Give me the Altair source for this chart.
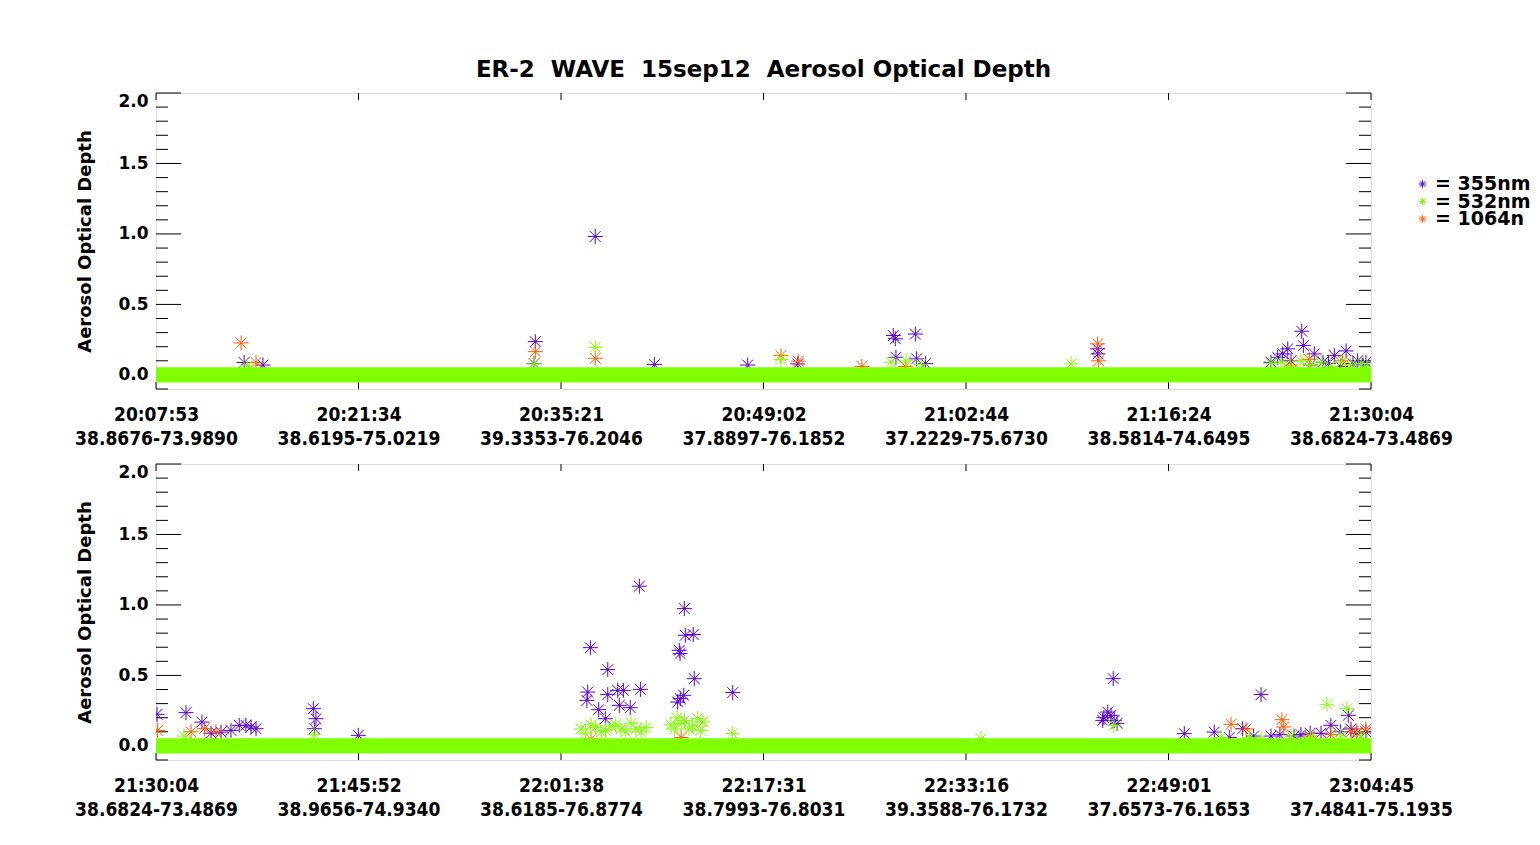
import json
import altair as alt
import pandas as pd

# ---------------- data (x in tick-interval units: 0..6 per panel) ----------------
top_times = ["20:07:53", "20:21:34", "20:35:21", "20:49:02", "21:02:44", "21:16:24", "21:30:04"]
top_coords = ["38.8676-73.9890", "38.6195-75.0219", "39.3353-76.2046", "37.8897-76.1852",
              "37.2229-75.6730", "38.5814-74.6495", "38.6824-73.4869"]
bot_times = ["21:30:04", "21:45:52", "22:01:38", "22:17:31", "22:33:16", "22:49:01", "23:04:45"]
bot_coords = ["38.6824-73.4869", "38.9656-74.9340", "38.6185-76.8774", "38.7993-76.8031",
              "39.3588-76.1732", "37.6573-76.1653", "37.4841-75.1935"]

top_355_pos = [0.435, 0.528, 1.867, 1.873, 2.169, 2.461, 2.922, 3.169, 3.641, 3.651, 3.654, 3.750,
               3.756, 3.800, 4.650, 4.652, 5.506, 5.539, 5.564, 5.589, 5.605, 5.658, 5.666, 5.700,
               5.720, 5.763, 5.790, 5.819, 5.850, 5.877, 5.911, 5.934, 5.960, 5.975]
top_355_aod = [0.088, 0.070, 0.080, 0.236, 0.982, 0.073, 0.070, 0.078, 0.279, 0.256, 0.125, 0.290,
               0.114, 0.080, 0.185, 0.149, 0.090, 0.125, 0.149, 0.185, 0.100, 0.310, 0.208, 0.070,
               0.149, 0.090, 0.080, 0.137, 0.060, 0.170, 0.080, 0.100, 0.070, 0.090]
top_1064_pos = [0.420, 0.494, 1.873, 2.169, 3.086, 3.172, 3.486, 3.700, 4.650, 4.655, 5.605, 5.695, 5.860]
top_1064_aod = [0.227, 0.088, 0.165, 0.118, 0.137, 0.097, 0.060, 0.060, 0.220, 0.100, 0.070, 0.110, 0.100]
top_532_pos = [0.450, 1.867, 2.169, 3.086, 3.630, 3.704, 3.778, 4.519, 5.506, 5.556, 5.600, 5.654,
               5.700, 5.753, 5.800, 5.852, 5.900, 5.951, 5.980]
top_532_aod = [0.065, 0.078, 0.196, 0.110, 0.090, 0.100, 0.075, 0.078, 0.080, 0.090, 0.060, 0.100,
               0.070, 0.085, 0.060, 0.090, 0.070, 0.080, 0.060]

bot_355_pos = [0.005, 0.148, 0.227, 0.272, 0.321, 0.370, 0.411, 0.444, 0.469, 0.494, 0.777, 0.782,
               0.790, 0.999, 2.128, 2.132, 2.145, 2.186, 2.219, 2.231, 2.231, 2.280, 2.288, 2.308,
               2.342, 2.387, 2.392, 2.576, 2.584, 2.588, 2.589, 2.606, 2.609, 2.614, 2.653, 2.658,
               2.848, 4.675, 4.681, 4.700, 4.716, 4.727, 4.732, 4.746, 5.078, 5.226, 5.300, 5.366,
               5.420, 5.457, 5.506, 5.550, 5.620, 5.654, 5.700, 5.753, 5.802, 5.850, 5.888, 5.901,
               5.930, 5.975]
bot_355_aod = [0.224, 0.236, 0.169, 0.090, 0.098, 0.110, 0.146, 0.146, 0.134, 0.122, 0.264, 0.122,
               0.193, 0.075, 0.323, 0.382, 0.697, 0.257, 0.193, 0.541, 0.364, 0.394, 0.288, 0.394,
               0.271, 1.133, 0.401, 0.311, 0.678, 0.655, 0.335, 0.359, 0.974, 0.785, 0.790, 0.477,
               0.378, 0.181, 0.200, 0.240, 0.217, 0.477, 0.181, 0.160, 0.087, 0.098, 0.060, 0.122,
               0.070, 0.364, 0.070, 0.080, 0.070, 0.080, 0.090, 0.090, 0.146, 0.100, 0.217, 0.120,
               0.090, 0.100]
bot_1064_pos = [0.008, 0.173, 0.239, 0.296, 2.148, 2.593, 5.309, 5.383, 5.560, 5.569, 5.700, 5.800,
                5.901, 5.930, 5.975]
bot_1064_aod = [0.110, 0.100, 0.122, 0.100, 0.050, 0.060, 0.153, 0.120, 0.186, 0.134, 0.070, 0.080,
                0.100, 0.100, 0.120]
bot_532_pos = [0.138, 0.780, 2.099, 2.120, 2.148, 2.170, 2.198, 2.220, 2.247, 2.270, 2.296, 2.320,
               2.346, 2.370, 2.395, 2.420, 2.543, 2.560, 2.573, 2.593, 2.610, 2.632, 2.650, 2.675,
               2.690, 2.701, 2.848, 4.074, 4.730, 5.259, 5.400, 5.457, 5.605, 5.700, 5.783, 5.850,
               5.881, 5.951]
bot_532_aod = [0.070, 0.080, 0.120, 0.090, 0.150, 0.130, 0.100, 0.110, 0.140, 0.150, 0.120, 0.100,
               0.160, 0.120, 0.100, 0.130, 0.150, 0.120, 0.200, 0.158, 0.180, 0.120, 0.140, 0.193,
               0.110, 0.170, 0.087, 0.050, 0.146, 0.060, 0.060, 0.050, 0.070, 0.060, 0.295, 0.070,
               0.264, 0.070]

# dense near-zero band of 532nm records (continuous over the whole flight leg)
band_start = [0.0]
band_end = [6.0]
band_low = [-0.053]
band_high = [0.054]

y_major = [0.0, 0.5, 1.0, 1.5, 2.0]
y_minor = [-0.1, 0.1, 0.2, 0.3, 0.4, 0.6, 0.7, 0.8, 0.9, 1.1, 1.2, 1.3, 1.4, 1.6, 1.7, 1.8, 1.9]
x_ticks = [0, 1, 2, 3, 4, 5, 6]

wavelengths = ["355nm", "532nm", "1064nm"]
colors = ["#5500cc", "#80ff00", "#ff5a00"]

ASTERISK = "M-1,0L1,0M0,-1L0,1M-0.72,-0.72L0.72,0.72M-0.72,0.72L0.72,-0.72"
FONT = "DejaVu Sans"
XFONT = "DejaVu Sans Condensed, DejaVu Sans"
W, H = 1215, 296
YSCALE = alt.Scale(domain=[-0.1, 2.0], nice=False, zero=False)


def panel(p355, a355, p1064, a1064, p532, a532, times, coords, legend, title=None):
    pts_back = pd.DataFrame({
        "pos": p355 + p1064,
        "aod": a355 + a1064,
        "wl": ["355nm"] * len(p355) + ["1064nm"] * len(p1064),
    })
    pts_front = pd.DataFrame({"pos": p532, "aod": a532, "wl": ["532nm"] * len(p532)})
    band = pd.DataFrame({"pos": band_start, "pos2": band_end, "lo": band_low, "hi": band_high})
    ymaj = pd.DataFrame({"aod": y_major})
    ymin = pd.DataFrame({"aod": y_minor})
    xt = pd.DataFrame({"pos": x_ticks})

    label_expr = f"[{json.dumps(times)}[datum.value], {json.dumps(coords)}[datum.value]]"
    X = alt.X("pos:Q", title=None,
              scale=alt.Scale(domain=[0, 6], nice=False, zero=False),
              axis=alt.Axis(values=x_ticks, labelExpr=label_expr, ticks=False, tickSize=0,
                            domain=False, grid=False, labelFlush=False, labelOverlap=False,
                            labelLimit=0, labelBaseline="top", labelPadding=16,
                            labelLineHeight=24, labelFont=XFONT, labelFontSize=19,
                            labelFontWeight="bold", labelColor="black"))
    Y = alt.Y("aod:Q", title="Aerosol Optical Depth", scale=YSCALE,
              axis=alt.Axis(values=y_major, format=".1f", ticks=False, tickSize=0, domain=False,
                            grid=False, labelPadding=8, labelFont=FONT, labelFontSize=17,
                            labelFontWeight="bold", labelColor="black",
                            labelBaseline={"condition": {"test": "datum.value >= 2", "value": "top"},
                                           "value": "middle"},
                            titleFont=FONT, titleFontSize=18, titleFontWeight="bold",
                            titleColor="black", titlePadding=23))

    C = alt.Color("wl:N", scale=alt.Scale(domain=wavelengths, range=colors), legend=None)

    def rule(df, **enc):
        return alt.Chart(df).mark_rule(color="black", strokeWidth=1).encode(**enc)

    layers = [
        rule(ymaj, y=Y, x=alt.value(0), x2=alt.value(25)),
        rule(ymaj, y=Y, x=alt.value(W), x2=alt.value(W - 25)),
        rule(ymin, y=Y, x=alt.value(0), x2=alt.value(12)),
        rule(ymin, y=Y, x=alt.value(W), x2=alt.value(W - 12)),
        rule(xt, x=X, y=alt.value(H), y2=alt.value(H - 7)),
        rule(xt, x=X, y=alt.value(0), y2=alt.value(7)),
        alt.Chart(pts_back).mark_point(shape=ASTERISK, size=225, filled=False, strokeWidth=1,
                                       opacity=1, clip=True).encode(x=X, y=Y, color=C),
        alt.Chart(band).mark_rect(color="#80ff00", clip=True).encode(
            x=X, x2="pos2:Q", y=alt.Y("lo:Q", scale=YSCALE), y2="hi:Q"),
        alt.Chart(pts_front).mark_point(shape=ASTERISK, size=225, filled=False, strokeWidth=1,
                                        opacity=1, clip=True).encode(x=X, y=Y, color=C),
    ]

    if legend:
        # hand-made legend to the right of the top panel (cut by the page edge like the original)
        for i, (wl, col) in enumerate(zip(wavelengths, colors)):
            ldf = pd.DataFrame({"wl": [wl], "label": ["= " + wl]})
            ypix = 91 + i * 17.5
            layers.append(alt.Chart(ldf).mark_point(shape=ASTERISK, size=56, filled=False,
                                                    strokeWidth=1, opacity=1, color=col).encode(
                x=alt.value(1266.5), y=alt.value(ypix)))
            layers.append(alt.Chart(ldf).mark_text(align="left", baseline="middle", font=FONT,
                                                   fontSize=19, fontWeight="bold", color="black",
                                                   limit=102, ellipsis=" ").encode(
                text="label:N", x=alt.value(1279), y=alt.value(ypix)))

    layer = alt.layer(*layers)
    props = dict(width=W, height=H)
    if title is not None:
        props["title"] = alt.TitleParams(title, font=FONT, fontSize=23, fontWeight="bold",
                                         color="black", anchor="middle", offset=10)
    return layer.properties(**props)


top = panel(top_355_pos, top_355_aod, top_1064_pos, top_1064_aod, top_532_pos, top_532_aod,
            top_times, top_coords, legend=True,
            title="ER-2\u00a0 WAVE\u00a0 15sep12\u00a0 Aerosol Optical Depth")
bottom = panel(bot_355_pos, bot_355_aod, bot_1064_pos, bot_1064_aod, bot_532_pos, bot_532_aod,
               bot_times, bot_coords, legend=False)

chart = alt.vconcat(top, bottom, spacing=13).properties(
    padding={"left": 66, "top": 50, "right": 0, "bottom": 0}
).configure_view(stroke="black", strokeWidth=1).configure(background="white")

chart.save("out.html", embed_options={"renderer": "svg", "actions": False})
